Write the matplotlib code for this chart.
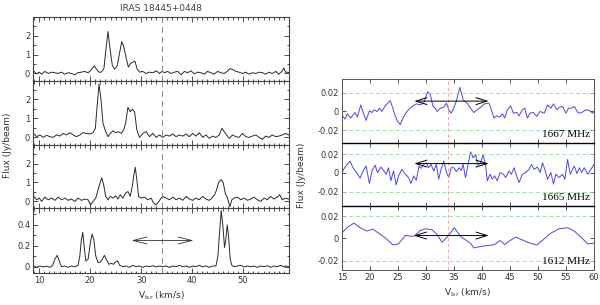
import matplotlib
matplotlib.use("Agg")
import matplotlib.pyplot as plt
from matplotlib.ticker import MultipleLocator, FixedLocator

# ---------------- data: left (IRAS 18445+0448 spectra) ----------------
v1 = [9.0, 9.5, 10.0, 10.5, 11.1, 11.8, 12.4, 13.1, 13.7, 14.4, 15.0, 15.7, 16.3, 17.0, 17.6, 18.3, 18.9, 19.6,
      20.1, 20.45, 20.8, 21.2, 21.7, 22.2, 22.7, 23.05, 23.5, 23.9, 24.35, 24.8, 25.3, 25.7, 26.2, 26.6, 27.1,
      27.5, 27.9, 28.4, 28.8, 29.2, 29.7, 30.3, 31.0, 31.6, 32.3, 33.0, 33.6, 34.1, 34.6, 35.2, 35.9, 36.5,
      37.2, 37.8, 38.5, 39.1, 39.8, 40.4, 41.1, 41.7, 42.4, 43.0, 43.7, 44.3, 45.0, 45.6, 46.3, 46.9, 47.4,
      47.9, 48.6, 49.2, 49.9, 50.5, 51.2, 51.8, 52.5, 53.1, 53.8, 54.4, 55.1, 55.7, 56.4, 57.0, 57.6, 58.0,
      58.3, 59.0]
f1 = [0.11, -0.02, 0.07, -0.04, 0.11, 0.00, 0.07, 0.04, 0.00, 0.07, -0.04, 0.04, 0.00, -0.07, 0.04, 0.07, 0.11, 0.04,
      0.16, 0.29, 0.40, 0.25, 0.07, 0.07, 0.25, 1.15, 2.23, 1.33, 0.43, 0.22, 0.40, 0.97, 1.69, 1.42, 0.79,
      0.34, 0.52, 0.61, 0.65, 0.25, 0.07, 0.11, 0.00, 0.07, 0.04, 0.14, 0.00, 0.11, 0.04, 0.11, 0.00, 0.07,
      0.11, -0.07, 0.11, 0.04, 0.14, -0.02, 0.07, 0.04, -0.04, 0.11, 0.04, -0.04, 0.11, 0.04, 0.00, 0.11, 0.25,
      0.22, 0.11, 0.07, 0.00, 0.07, -0.04, 0.04, 0.00, 0.07, 0.04, -0.04, 0.07, 0.00, 0.11, -0.04, 0.11, 0.29,
      0.07, 0.05]

v2 = [8.99, 9.51, 10.16, 10.81, 11.46, 12.12, 12.77, 13.42, 14.07, 14.72, 15.37, 16.02, 16.67, 17.32, 17.98,
      18.63, 19.28, 19.93, 20.58, 21.03, 21.36, 21.75, 22.14, 22.53, 23.05, 23.51, 23.96, 24.49, 25.01, 25.53,
      26.11, 26.57, 26.96, 27.41, 27.87, 28.26, 28.72, 29.17, 29.69, 30.34, 30.99, 31.65, 32.30, 32.95, 33.60,
      34.25, 34.90, 35.55, 36.20, 36.85, 37.51, 38.16, 38.81, 39.46, 40.11, 40.76, 41.41, 42.06, 42.71, 43.36,
      44.02, 44.67, 45.32, 45.84, 46.29, 46.75, 47.27, 47.92, 48.57, 49.22, 49.87, 50.53, 51.18, 51.83, 52.48,
      53.13, 53.78, 54.43, 55.08, 55.73, 56.38, 57.03, 57.69, 58.34, 59.0]
f2 = [0.16, 0.02, 0.11, -0.02, 0.09, 0.02, -0.02, 0.11, 0.05, 0.19, 0.11, 0.23, 0.11, 0.02, 0.11,
      0.23, 0.19, 0.16, 0.23, 0.46, 1.60, 2.79, 1.95, 0.72, 0.28, 0.02, 0.19, 0.33, 0.23, 0.28,
      0.19, 0.37, 0.72, 1.56, 1.33, 1.46, 1.33, 0.37, -0.02, 0.19, 0.28, 0.02, 0.19, -0.02, 0.11,
      -0.02, 0.11, 0.05, 0.16, 0.02, 0.11, 0.05, 0.16, 0.02, 0.19, 0.05, 0.23, -0.02, 0.11, -0.07,
      0.05, -0.02, 0.11, 0.46, 0.28, 0.11, -0.07, 0.11, 0.02, -0.02, 0.19, 0.02, -0.02, 0.05, 0.11,
      -0.02, -0.12, 0.05, -0.02, 0.11, 0.02, 0.05, 0.11, 0.19, 0.10]

v3 = [8.99, 9.51, 10.03, 10.49, 11.14, 11.79, 12.44, 13.09, 13.74, 14.39, 15.05, 15.70, 16.35, 17.00, 17.65,
      18.30, 18.95, 19.60, 20.06, 20.58, 21.10, 21.56, 21.95, 22.27, 22.66, 23.05, 23.51, 23.96, 24.49, 25.01,
      25.46, 25.92, 26.44, 26.96, 27.41, 27.87, 28.26, 28.59, 28.85, 29.17, 29.50, 30.02, 30.67, 31.32, 31.97,
      32.43, 32.95, 33.47, 33.92, 34.25, 34.90, 35.55, 36.20, 36.85, 37.51, 38.16, 38.81, 39.46, 40.11, 40.76,
      41.41, 42.06, 42.71, 43.36, 43.88, 44.41, 44.80, 45.19, 45.71, 46.10, 46.49, 46.94, 47.40, 47.79, 48.25,
      48.90, 49.55, 50.20, 50.85, 51.50, 52.15, 52.80, 53.45, 54.11, 54.76, 55.41, 56.06, 56.71, 57.17, 57.69,
      58.34, 59.0]
f3 = [0.25, 0.07, 0.16, -0.02, 0.21, 0.07, 0.16, 0.04, 0.21, 0.07, 0.16, 0.04, 0.11, -0.02, 0.16,
      0.04, 0.11, 0.07, -0.20, -0.02, 0.16, 0.60, 0.96, 1.25, 0.87, 0.25, 0.07, 0.25, 0.16, 0.28,
      0.11, 0.34, 0.16, 0.43, 0.51, 0.25, 0.78, 1.40, 1.81, 1.13, 0.25, 0.16, 0.21, 0.07, 0.16,
      -0.11, -0.20, -0.02, 0.16, 0.25, 0.16, 0.07, 0.21, 0.07, 0.16, 0.04, 0.25, 0.11, 0.04, 0.16,
      0.07, 0.25, 0.11, 0.04, 0.16, 0.34, 0.60, 0.99, 1.15, 0.99, 0.43, 0.16, -0.30, 0.07, 0.16,
      0.21, 0.07, 0.16, 0.04, 0.11, 0.21, 0.07, -0.02, 0.16, 0.07, 0.25, 0.11, 0.21, 0.34, 0.07,
      0.16, 0.10]

v4 = [8.99, 9.51, 10.16, 10.81, 11.46, 12.12, 12.64, 13.09, 13.55, 13.94, 14.39, 15.05, 15.70, 16.35, 17.00,
      17.65, 17.98, 18.30, 18.56, 18.82, 19.15, 19.60, 20.06, 20.38, 20.71, 21.10, 21.56, 22.01, 22.40, 22.79,
      23.18, 23.70, 24.16, 24.62, 25.01, 25.40, 25.79, 26.44, 27.09, 27.74, 28.39, 29.04, 29.69, 30.34, 30.99,
      31.65, 32.30, 32.95, 33.60, 34.25, 34.90, 35.55, 36.20, 36.85, 37.51, 38.16, 38.81, 39.46, 40.11, 40.76,
      41.41, 42.06, 42.71, 43.36, 44.02, 44.67, 45.06, 45.38, 45.71, 46.03, 46.36, 46.62, 46.88, 47.14, 47.47,
      47.79, 48.25, 48.90, 49.55, 50.20, 50.85, 51.50, 52.15, 52.80, 53.45, 54.11, 54.76, 55.41, 56.06, 56.71,
      57.36, 58.01, 58.34, 59.0]
f4 = [0.007, -0.006, 0.007, -0.003, 0.004, -0.006, 0.013, 0.071, 0.109, 0.055, 0.000, 0.007, -0.006, 0.007, 0.000,
      0.013, 0.103, 0.263, 0.327, 0.199, 0.055, 0.071, 0.231, 0.311, 0.263, 0.103, 0.039, 0.045, 0.071, 0.109,
      0.071, 0.023, 0.032, 0.023, 0.045, 0.055, 0.013, 0.000, 0.007, -0.006, 0.013, 0.000, 0.007, -0.006, 0.007,
      0.000, 0.010, -0.003, 0.007, 0.000, 0.007, -0.006, 0.007, 0.000, 0.013, 0.000, 0.007, -0.006, 0.007, 0.000,
      0.013, 0.000, 0.007, -0.006, 0.007, 0.007, 0.103, 0.327, 0.536, 0.391, 0.183, 0.263, 0.398, 0.295, 0.071,
      0.013, 0.000, 0.007, 0.013, -0.003, 0.007, 0.000, 0.007, -0.006, 0.007, 0.000, 0.010, -0.006, 0.007, 0.000,
      0.013, 0.000, 0.007, 0.000]

left_v = [v1, v2, v3, v4]
left_f = [f1, f2, f3, f4]
left_ylims = [(-0.4, 3.0), (-0.42, 2.95), (-0.37, 3.0), (-0.06, 0.56)]
left_yticks = [[0, 1, 2], [0, 1, 2], [0, 1, 2], [0, 0.2, 0.4]]
left_yticklabels = [["0", "1", "2"], ["0", "1", "2"], ["0", "1", "2"], ["0", "0.2", "0.4"]]
left_xticks = [10, 20, 30, 40, 50]
left_arrow = (28.1, 40.3, 0.25)
v_sys = 34.0

# ---------------- data: right (OH lines) ----------------
v1667 = [15.12, 15.54, 15.96, 16.55, 17.33, 17.75, 18.35, 18.82, 19.30, 19.90, 20.38, 20.74, 21.22, 21.69, 22.11,
         22.71, 23.61, 24.08, 24.50, 24.92, 25.40, 25.88, 26.59, 27.49, 28.27, 28.98, 29.58, 30.30, 30.78, 31.26,
         31.67, 31.97, 32.57, 33.17, 33.65, 34.07, 34.48, 34.96, 35.44, 36.04, 36.64, 37.35, 37.95, 38.55, 39.15,
         39.74, 40.46, 41.24, 41.66, 42.13, 42.61, 43.21, 43.63, 44.05, 44.53, 45.12, 45.60, 46.20, 46.62, 47.21,
         47.63, 48.11, 48.59, 49.19, 49.78, 50.38, 51.10, 51.70, 52.30, 52.77, 53.37, 53.79, 54.39, 54.99, 55.46,
         56.00, 56.48, 57.20, 57.79, 58.57, 59.17, 59.77, 60.0]
f1667 = [-0.0046, -0.0081, -0.0025, -0.0070, -0.0011, -0.0060, 0.0070, -0.0018, -0.0095, 0.0007, -0.0011, 0.0018,
         0.0000, 0.0035, 0.0000, 0.0060, 0.0116, 0.0035, -0.0046, -0.0105, -0.0140, -0.0070, 0.0000, 0.0053,
         0.0081, 0.0070, 0.0088, 0.0210, 0.0175, 0.0053, 0.0035, 0.0000, 0.0035, 0.0044, 0.0088, 0.0018,
         -0.0018, 0.0035, 0.0116, 0.0256, 0.0123, 0.0088, 0.0035, -0.0011, 0.0018, 0.0044, 0.0081, 0.0088,
         0.0018, -0.0070, -0.0046, -0.0060, -0.0025, -0.0070, 0.0018, 0.0060, -0.0018, -0.0011, -0.0046,
         0.0018, 0.0035, -0.0070, -0.0018, -0.0011, -0.0053, 0.0000, -0.0018, 0.0070, 0.0035, 0.0081, 0.0018,
         0.0044, 0.0053, -0.0018, 0.0035, 0.0035, 0.0053, -0.0018, -0.0011, 0.0018, 0.0011, -0.0018, 0.0000]

v1665 = [15.0, 15.54, 16.43, 17.03, 17.63, 18.23, 18.82, 19.30, 19.90, 20.38, 20.92, 21.33, 21.93, 22.41, 22.89,
         23.31, 23.73, 24.20, 24.68, 25.10, 25.70, 26.30, 26.89, 27.31, 27.79, 28.27, 28.75, 29.10, 29.58, 30.06,
         30.48, 30.90, 31.38, 31.85, 32.27, 32.69, 33.17, 33.65, 34.07, 34.48, 34.96, 35.44, 35.92, 36.28, 36.64,
         37.05, 37.47, 37.95, 38.43, 38.85, 39.27, 39.74, 40.22, 40.64, 40.94, 41.42, 41.84, 42.25, 42.73, 43.21,
         43.81, 44.23, 44.82, 45.24, 45.72, 46.20, 46.62, 47.21, 47.81, 48.41, 48.83, 49.31, 49.90, 50.38, 50.80,
         51.22, 51.70, 52.30, 52.77, 53.19, 53.79, 54.39, 54.81, 55.28, 55.76, 56.18, 56.48, 56.96, 57.38, 57.79,
         58.27, 58.87, 59.47, 60.0]
f1665 = [0.0004, 0.0063, 0.0126, 0.0049, 0.0004, -0.0056, 0.0028, 0.0074, -0.0112, 0.0028, 0.0084, 0.0004,
         0.0063, 0.0028, -0.0014, 0.0056, -0.0084, 0.0021, -0.0126, -0.0032, 0.0039, -0.0014, -0.0049, -0.0112,
         -0.0032, -0.0077, 0.0074, 0.0049, 0.0091, 0.0109, 0.0056, 0.0091, 0.0021, 0.0091, -0.0067, 0.0039,
         0.0126, 0.0004, -0.0049, 0.0056, 0.0056, 0.0014, 0.0056, 0.0028, 0.0091, -0.0049, 0.0074, 0.0225,
         0.0161, 0.0196, 0.0084, 0.0109, 0.0196, 0.0084, -0.0084, -0.0014, -0.0067, -0.0032, -0.0084, 0.0004,
         -0.0014, -0.0049, 0.0021, -0.0014, 0.0056, -0.0032, -0.0102, -0.0014, 0.0004, 0.0039, 0.0091, 0.0039,
         0.0063, 0.0004, 0.0109, 0.0039, -0.0067, 0.0004, -0.0119, -0.0014, -0.0049, -0.0014, -0.0067, 0.0144,
         -0.0014, 0.0039, 0.0074, -0.0007, 0.0056, 0.0004, 0.0056, -0.0014, 0.0039, 0.0091]

v1612 = [15.0, 15.84, 17.15, 18.23, 19.42, 20.50, 21.51, 22.71, 24.08, 25.10, 26.30, 27.19, 27.91, 28.98, 30.06,
         31.08, 31.97, 32.87, 33.89, 35.08, 36.16, 37.23, 37.95, 38.55, 39.62, 40.94, 42.25, 43.21, 44.05, 44.82,
         46.02, 47.21, 48.59, 49.78, 51.10, 52.30, 53.79, 55.28, 56.48, 57.68, 58.87, 60.0]
f1612 = [0.0047, 0.0095, 0.0137, 0.0095, 0.0065, 0.0083, 0.0047, 0.0005, -0.0059, -0.0050, 0.0026, 0.0020,
         0.0020, 0.0071, 0.0086, 0.0077, 0.0035, -0.0035, 0.0017, 0.0095, 0.0017, -0.0020, -0.0044, -0.0086,
         -0.0074, -0.0065, -0.0056, -0.0020, -0.0056, -0.0026, 0.0011, -0.0014, -0.0044, -0.0059, -0.0005,
         0.0047, 0.0086, 0.0095, 0.0065, 0.0011, -0.0050, -0.0044]

right_v = [v1667, v1665, v1612]
right_f = [f1667, f1665, f1612]
right_labels = ["1667 MHz", "1665 MHz", "1612 MHz"]
right_ylims = [(-0.0335, 0.0345), (-0.0353, 0.032), (-0.0284, 0.029)]
right_arrows = [(27.9, 41.2, 0.011), (27.9, 41.2, 0.010), (27.8, 41.2, 0.0025)]
right_yticks = [-0.02, 0, 0.02]
right_yticklabels = ["-0.02", "0", "0.02"]
right_xticks = [15, 20, 25, 30, 35, 40, 45, 50, 55, 60]

# ---------------- figure ----------------
W, H = 600, 305
fig = plt.figure(figsize=(6.0, 3.05), dpi=100)
plt.rcParams['font.family'] = ['DejaVu Sans']
tcol = '#333333'


def pos(x0, x1, t, b):
    return [x0 / W, 1 - b / H, (x1 - x0) / W, (b - t) / H]


left_edges = [(17, 81), (81, 145), (145, 208), (208, 273)]
for i, (t, b) in enumerate(left_edges):
    ax = fig.add_axes(pos(33, 289, t, b))
    ax.plot(left_v[i], left_f[i], color='#2a2a2a', lw=0.7)
    ax.axvline(v_sys, color='#888888', lw=0.7, ls=(0, (6, 4)))
    ax.set_xlim(8.8, 59.0)
    ax.set_ylim(*left_ylims[i])
    ax.set_yticks(left_yticks[i])
    ax.set_yticklabels(left_yticklabels[i])
    ax.xaxis.set_minor_locator(MultipleLocator(1))
    ax.yaxis.set_minor_locator(MultipleLocator(0.5 if i < 3 else 0.1))
    ax.set_xticks(left_xticks)
    ax.tick_params(which='both', direction='in', top=True, right=True, colors=tcol,
                   labelsize=6, width=0.6, pad=2)
    ax.tick_params(which='major', length=3.5)
    ax.tick_params(which='minor', length=1.8)
    for s in ax.spines.values():
        s.set_color('#444444')
        s.set_linewidth(0.8)
    if i < 3:
        ax.tick_params(labelbottom=False)
    else:
        ax.set_xticklabels([str(x) for x in left_xticks])
        ax.annotate('', xy=(left_arrow[0], left_arrow[2]), xytext=(left_arrow[1], left_arrow[2]),
                    arrowprops=dict(arrowstyle='<->,head_length=1.0,head_width=0.25', color='#333333', lw=0.6,
                                    shrinkA=0, shrinkB=0))
    if i == 0:
        ax.set_title('IRAS 18445+0448', fontsize=6.5, color='#444444', pad=4)

fig.text(8 / W, 1 - 145 / H, 'Flux (Jy/beam)', rotation=90, ha='center', va='center', fontsize=6.5, color=tcol)
fig.text(161 / W, 1 - 296 / H, r'V$_{\rm lsr}$ (km/s)', ha='center', va='center', fontsize=6.5, color=tcol)

right_edges = [(79, 143), (143, 206), (206, 270)]
for i, (t, b) in enumerate(right_edges):
    ax = fig.add_axes(pos(342, 594, t, b))
    ax.plot(right_v[i], right_f[i], color='#4a4ad8', lw=0.7)
    ax.axvline(v_sys, color='#e89a9a', lw=0.6, ls=(0, (4, 3)))
    for yv in (-0.02, 0.02):
        ax.axhline(yv, color='#9ed89e', lw=0.6, ls=(0, (5, 3)))
    ax.set_xlim(15, 60)
    ax.set_ylim(*right_ylims[i])
    ax.set_yticks(right_yticks)
    ax.set_yticklabels(right_yticklabels)
    ax.set_xticks(right_xticks)
    ax.tick_params(which='both', direction='in', top=True, right=True, colors=tcol,
                   labelsize=6, width=0.6, length=3, pad=2)
    for s in ax.spines.values():
        s.set_color('#555555')
        s.set_linewidth(0.7)
    if i > 0:
        ax.spines['top'].set_color('black')
        ax.spines['top'].set_linewidth(1.0)
    if i < 2:
        ax.tick_params(labelbottom=False)
    else:
        ax.set_xticklabels([str(x) for x in right_xticks])
    a0, a1, ay = right_arrows[i]
    ax.annotate('', xy=(a0, ay), xytext=(a1, ay),
                arrowprops=dict(arrowstyle='<->,head_length=0.8,head_width=0.25', color='black', lw=0.7,
                                shrinkA=0, shrinkB=0))
    ax.text(0.985, 0.13, right_labels[i], transform=ax.transAxes, ha='right', va='center',
            fontsize=8, family=['Liberation Serif', 'DejaVu Serif'], color='black')

fig.text(302 / W, 1 - 175 / H, 'Flux (Jy/beam)', rotation=90, ha='center', va='center', fontsize=6.5, color=tcol)
fig.text(467 / W, 1 - 293 / H, r'V$_{\rm lsr}$ (km/s)', ha='center', va='center', fontsize=6.5, color=tcol)

fig.savefig('out.png', dpi=100)
